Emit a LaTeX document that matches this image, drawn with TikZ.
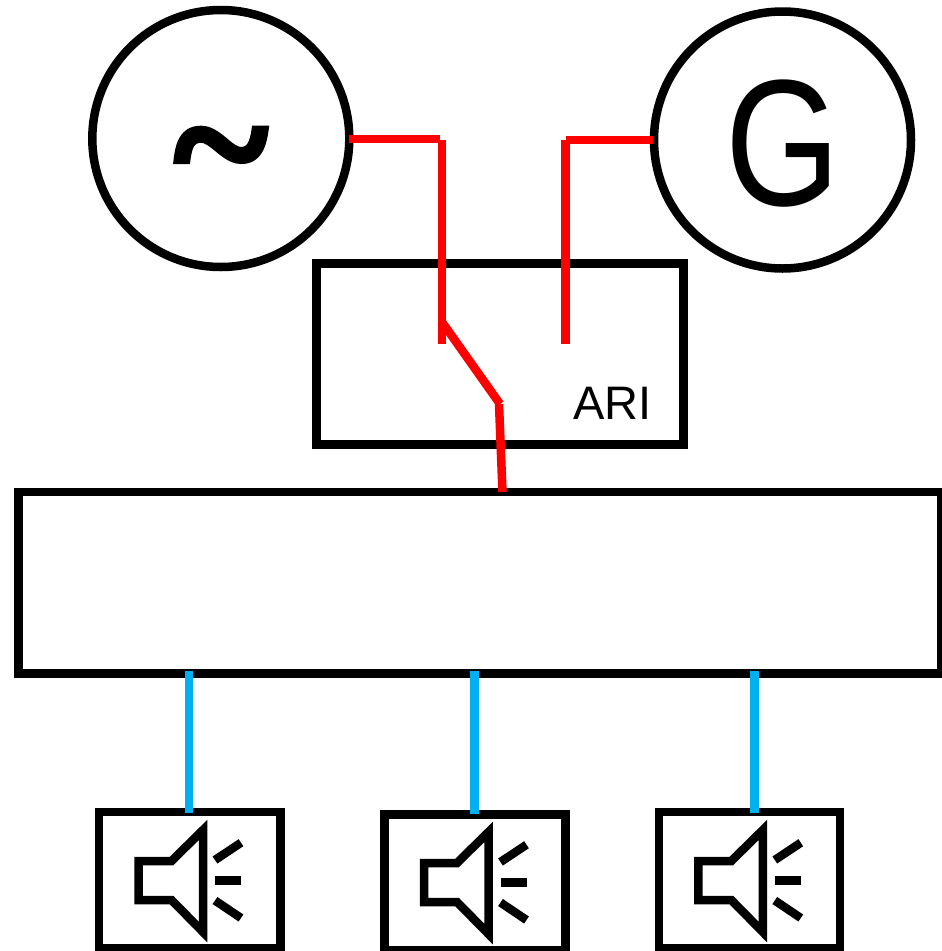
\documentclass[tikz,border=0pt]{standalone}
\usepackage{fontspec}
\setmainfont{Liberation Sans}
\newfontfamily\tildefont[FakeBold=2.5]{Liberation Serif Bold}
\definecolor{wirered}{RGB}{255,0,0}
\definecolor{wireblue}{RGB}{0,176,240}
\tikzset{
  blk/.style={draw=black,line width=8.5pt,miter limit=10,inner sep=0pt,outer sep=0pt},
  ring/.style={blk,circle,minimum size=257pt},
  redw/.style={draw=wirered,line width=8.5pt},
  bluw/.style={draw=wireblue,line width=8.5pt},
  spk/.style={draw=black,line width=8.5pt,miter limit=10},
}
\newcommand{\spkicon}[2]{%
  \begin{scope}[shift={(#1,#2)}]
    \draw[spk] (0,861) -- (33,861) -- (64.5,830) -- (64.5,932) -- (33,900) -- (0,900) -- cycle;
    \draw[spk] (76.5,860) -- (102.5,842.7);
    \draw[spk] (76.5,880.3) -- (102.5,880.3);
    \draw[spk] (76.5,900.5) -- (102.5,918);
  \end{scope}}
\begin{document}
\begin{tikzpicture}[x=1pt,y=-1pt]
\useasboundingbox (0,0) rectangle (942,951);
\node[ring] (ac) at (220.8,138.5) {};
\node[ring] (gen) at (782.5,140) {};
\node[anchor=center] (tl) at (221,166) {\tildefont\fontsize{180}{180}\selectfont\char`\~};
\node[anchor=center,xscale=0.82] (gl) at (783,144) {\fontsize{180}{180}\selectfont G};
\node[blk,minimum width=367.4pt,minimum height=181pt] (ari) at (500,353.8) {};
\node[anchor=center] (aril) at (612.5,403) {\fontsize{47}{47}\selectfont ARI};
\node[blk,minimum width=922.3pt,minimum height=181.3pt] (bus) at (479.85,582.65) {};
\node[blk,minimum width=181.3pt,minimum height=135.8pt] (s1) at (189.65,880.1) {};
\node[blk,minimum width=180.6pt,minimum height=136pt] (s2) at (475,882.7) {};
\node[blk,minimum width=181pt,minimum height=135.8pt] (s3) at (749.5,880.1) {};
\spkicon{138.5}{0}
\spkicon{424}{2}
\spkicon{698.3}{0}
\coordinate (a1) at (349,139);
\coordinate (a2) at (440,139);
\coordinate (a3) at (442,140);
\coordinate (a4) at (442,344);
\coordinate (d1) at (442,322);
\coordinate (d2) at (500,404);
\coordinate (d3) at (499,404);
\coordinate (d4) at (502.5,492);
\coordinate (g1) at (653,140);
\coordinate (g2) at (565.7,140);
\coordinate (g3) at (565.3,140);
\coordinate (g4) at (565.3,344);
\coordinate (b1) at (189,671);
\coordinate (b2) at (189,812.7);
\coordinate (b3) at (474.7,671);
\coordinate (b4) at (474.7,814.3);
\coordinate (b5) at (754.3,671);
\coordinate (b6) at (754.3,812.7);
\draw[redw] (a1) -- (a2);
\draw[redw] (a3) -- (a4);
\draw[redw] (d1) -- (d2);
\draw[redw] (d3) -- (d4);
\draw[redw] (g1) -- (g2);
\draw[redw] (g3) -- (g4);
\draw[bluw] (b1) -- (b2);
\draw[bluw] (b3) -- (b4);
\draw[bluw] (b5) -- (b6);
\end{tikzpicture}
\end{document}
